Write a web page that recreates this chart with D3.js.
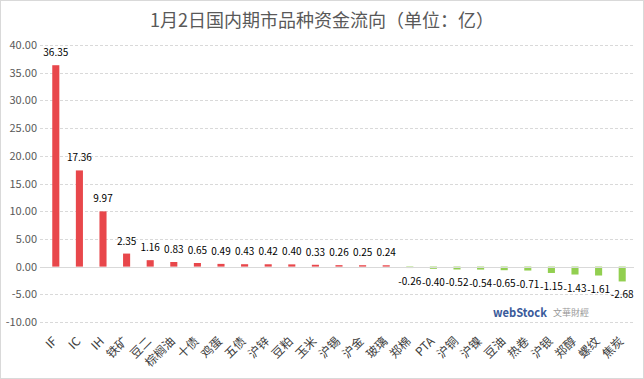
<!DOCTYPE html>
<html lang="zh">
<head>
    <meta charset="UTF-8">
    <title>资金流向</title>
    <script src="https://d3js.org/d3.v7.js"></script>
    <style>
        body { margin: 0; background: #fff; }
        text { font-family: "Noto Sans CJK SC", "Noto Sans", sans-serif; }
    </style>
</head>
<body>
    <svg></svg>
    <script>
        const categories = ["IF", "IC", "IH", "铁矿", "豆二", "棕榈油", "十债", "鸡蛋", "五债", "沪锌",
            "豆粕", "玉米", "沪锡", "沪金", "玻璃", "郑棉", "PTA", "沪铜", "沪镍", "豆油",
            "热卷", "沪银", "郑醇", "螺纹", "焦炭"];
        const values = [36.35, 17.36, 9.97, 2.35, 1.16, 0.83, 0.65, 0.49, 0.43, 0.42,
            0.40, 0.33, 0.26, 0.25, 0.24, -0.26, -0.40, -0.52, -0.54, -0.65,
            -0.71, -1.15, -1.43, -1.61, -2.68];
        const yTicks = [40, 35, 30, 25, 20, 15, 10, 5, 0, -5, -10];
        const title = "1月2日国内期市品种资金流向（单位：亿）";

        const width = 644, height = 379;
        const plotLeft = 44, plotRight = 634, plotTop = 45, plotBottom = 322;

        const svg = d3.select("svg")
            .attr("width", width)
            .attr("height", height);

        svg.append("rect")
            .attr("x", 0.5).attr("y", 0.5)
            .attr("width", width - 1).attr("height", height - 1)
            .attr("fill", "#fff")
            .attr("stroke", "#d9d9d9");

        svg.append("text")
            .attr("x", 322).attr("y", 27)
            .attr("text-anchor", "middle")
            .attr("font-size", 18)
            .attr("fill", "#595959")
            .text(title);

        const x = d3.scaleBand()
            .domain(categories)
            .range([plotLeft, plotRight])
            .paddingInner(0.7)
            .paddingOuter(0.35);

        const y = d3.scaleLinear()
            .domain([-10, 40])
            .range([plotBottom, plotTop]);

        // gridlines
        svg.selectAll(".grid")
            .data(yTicks.filter(d => d !== 0))
            .join("line")
            .attr("class", "grid")
            .attr("x1", plotLeft - 4).attr("x2", plotRight)
            .attr("y1", d => Math.round(y(d)) + 0.5)
            .attr("y2", d => Math.round(y(d)) + 0.5)
            .attr("stroke", "#d9d9d9")
            .attr("stroke-dasharray", "3,2");

        // y labels
        svg.selectAll(".ylab")
            .data(yTicks)
            .join("text")
            .attr("class", "ylab")
            .attr("x", 37)
            .attr("y", d => y(d) + 4)
            .attr("text-anchor", "end")
            .attr("font-size", 11)
            .attr("fill", "#595959")
            .text(d => d.toFixed(2));

        // bars
        svg.selectAll(".bar")
            .data(values)
            .join("rect")
            .attr("class", "bar")
            .attr("x", (d, i) => x(categories[i]))
            .attr("width", x.bandwidth())
            .attr("y", d => y(Math.max(d, 0)))
            .attr("height", d => Math.abs(y(d) - y(0)))
            .attr("fill", d => d >= 0 ? "#e8474b" : "#92cf50");

        // zero line
        svg.append("line")
            .attr("x1", plotLeft - 4).attr("x2", plotRight)
            .attr("y1", Math.round(y(0)) + 0.5).attr("y2", Math.round(y(0)) + 0.5)
            .attr("stroke", "#d9d9d9");

        // value labels
        svg.selectAll(".vlab")
            .data(values)
            .join("text")
            .attr("class", "vlab")
            .attr("x", (d, i) => x(categories[i]) + x.bandwidth() / 2)
            .attr("y", d => d >= 0 ? y(d) - 9 : y(d) + 17)
            .attr("text-anchor", "middle")
            .attr("font-size", 10)
            .attr("fill", "#000")
            .text(d => d.toFixed(2));

        // category labels
        svg.selectAll(".xlab")
            .data(categories)
            .join("text")
            .attr("class", "xlab")
            .attr("transform", d => `translate(${x(d) + x.bandwidth() / 2 + 2},${plotBottom + 20}) rotate(-45)`)
            .attr("text-anchor", "end")
            .attr("font-size", 12)
            .attr("fill", "#404040")
            .text(d => d);

        // watermark
        const wm = svg.append("g").attr("transform", "translate(493,317)");
        wm.append("text")
            .attr("font-size", 12)
            .attr("font-weight", "bold")
            .attr("textLength", 54)
            .attr("lengthAdjust", "spacingAndGlyphs")
            .attr("fill", "#3a5a9a")
            .text("webStock");
        wm.append("text")
            .attr("x", 60)
            .attr("y", -1)
            .attr("font-size", 9)
            .attr("fill", "#999")
            .text("文華財經");
    </script>
</body>
</html>
